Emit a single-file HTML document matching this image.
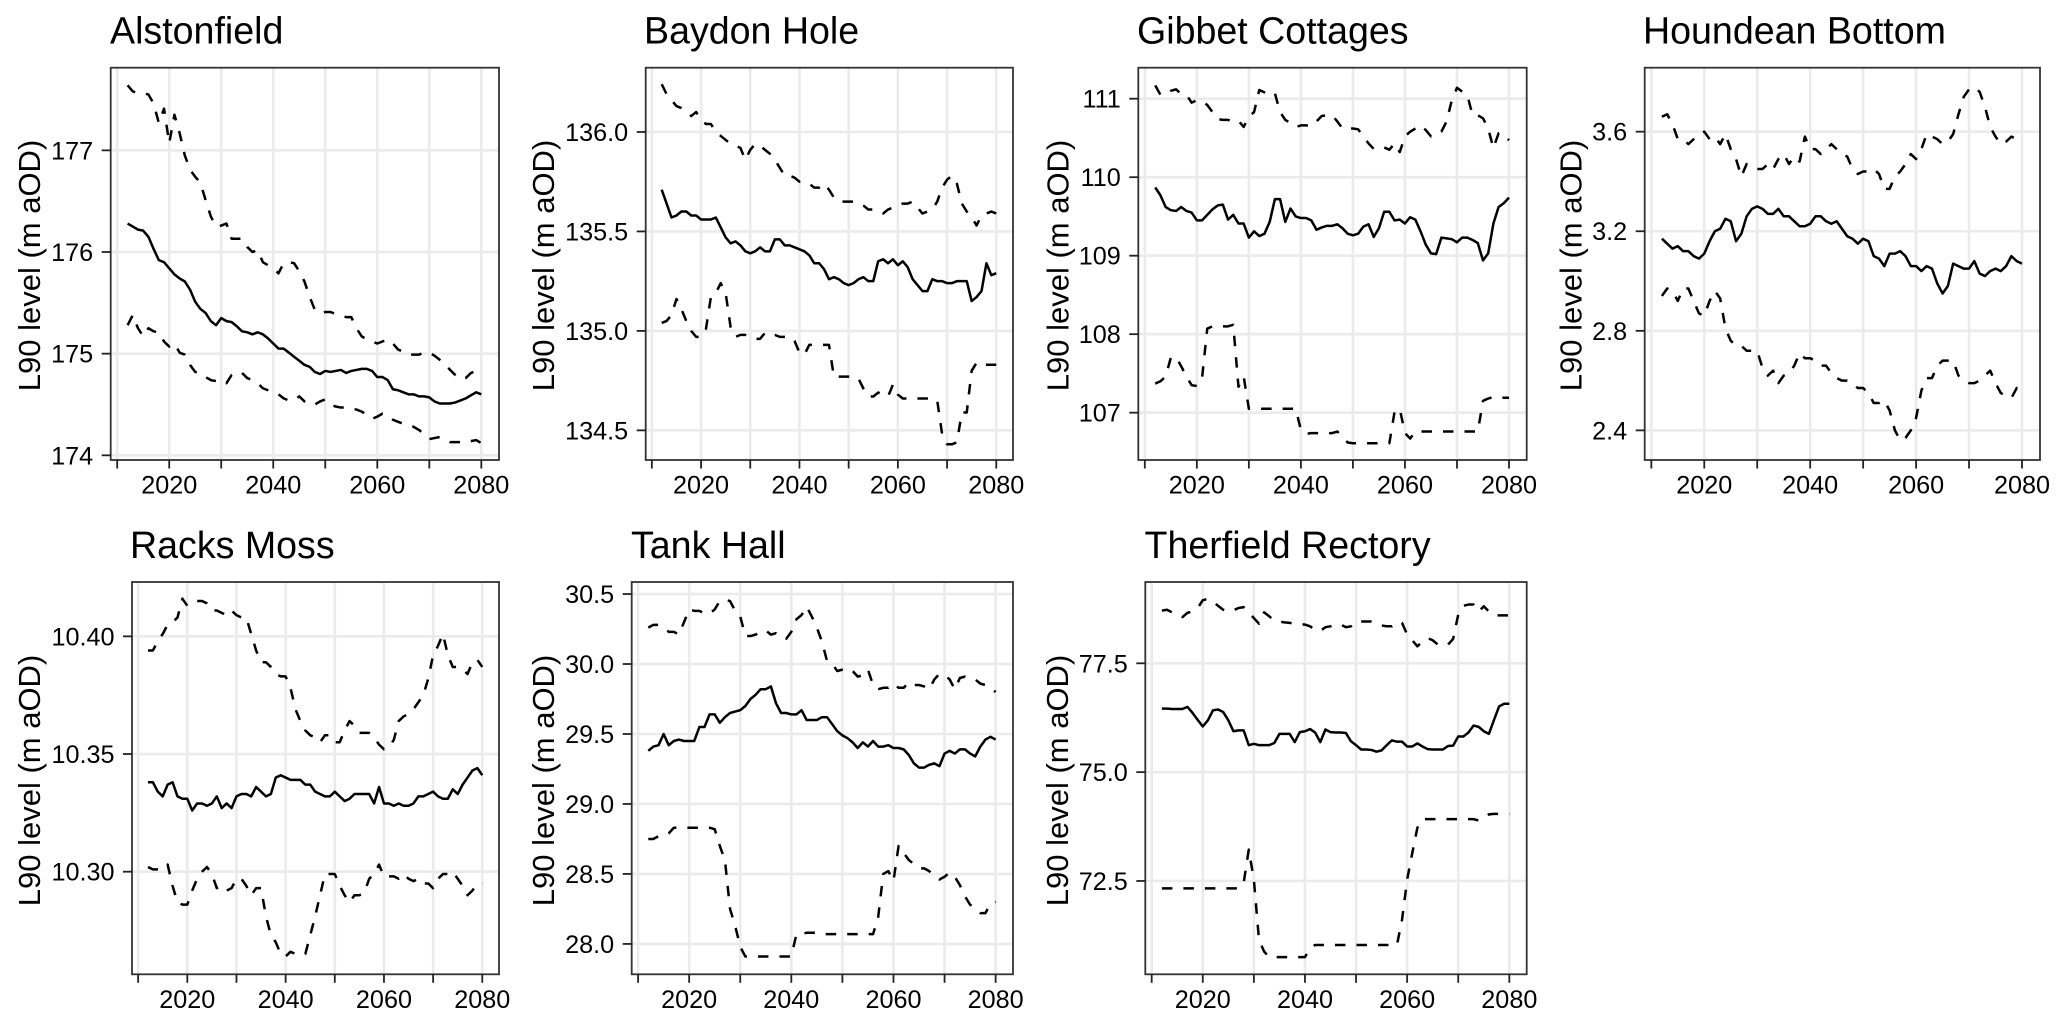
<!DOCTYPE html>
<html lang="en">
<head>
<meta charset="utf-8">
<title>L90 level projections</title>
<style>
html,body{margin:0;padding:0;background:#fff;}
svg{display:block;font-family:"Liberation Sans",Arial,sans-serif;}
</style>
</head>
<body>
<svg id="chart" xmlns="http://www.w3.org/2000/svg" width="2067" height="1026" viewBox="0 0 2067 1026"></svg>
<script>
const years=[2012,2013,2014,2015,2016,2017,2018,2019,
2020,2021,2022,2023,2024,2025,2026,2027,2028,2029,
2030,2031,2032,2033,2034,2035,2036,2037,2038,2039,
2040,2041,2042,2043,2044,2045,2046,2047,2048,2049,
2050,2051,2052,2053,2054,2055,2056,2057,2058,2059,
2060,2061,2062,2063,2064,2065,2066,2067,2068,2069,
2070,2071,2072,2073,2074,2075,2076,2077,2078,2079,
2080];
const xTickValues=[2010,2020,2030,2040,2050,2060,2070,2080];
const xTickLabels=["","2020","","2040","","2060","","2080"];
const yAxisTitle="L90 level (m aOD)";

const alstonfieldMid=[176.28,176.25,176.22,176.21,176.15,176.03,175.92,175.90,
175.84,175.78,175.74,175.71,175.63,175.51,175.44,175.40,175.32,175.28,
175.35,175.32,175.31,175.27,175.22,175.21,175.19,175.21,175.19,175.15,
175.10,175.05,175.05,175.01,174.97,174.93,174.89,174.87,174.82,174.80,
174.83,174.82,174.83,174.84,174.81,174.83,174.84,174.85,174.85,174.83,
174.77,174.77,174.74,174.65,174.64,174.62,174.60,174.60,174.58,174.58,
174.57,174.53,174.51,174.51,174.51,174.52,174.54,174.56,174.59,174.62,
174.60];
const alstonfieldUpper=[177.64,177.58,177.56,177.56,177.55,177.46,177.27,177.41,
177.07,177.35,177.17,176.95,176.81,176.74,176.68,176.51,176.35,176.25,
176.26,176.28,176.13,176.13,176.13,176.05,176.00,176.02,175.90,175.87,
175.84,175.79,175.89,175.90,175.89,175.81,175.71,175.56,175.43,175.40,
175.41,175.41,175.39,175.37,175.36,175.36,175.25,175.17,175.14,175.12,
175.10,175.12,175.14,175.10,175.04,175.02,174.99,174.99,174.99,175.01,
175.01,174.98,174.94,174.90,174.84,174.79,174.75,174.76,174.81,174.83,
174.81];
const alstonfieldLower=[175.28,175.38,175.25,175.17,175.25,175.22,175.21,175.12,
175.07,175.10,175.01,174.99,174.89,174.82,174.81,174.77,174.74,174.73,
174.74,174.71,174.79,174.82,174.81,174.76,174.74,174.71,174.66,174.64,
174.62,174.60,174.56,174.54,174.54,174.58,174.53,174.50,174.50,174.53,
174.55,174.50,174.48,174.47,174.47,174.46,174.45,174.43,174.40,174.36,
174.38,174.41,174.39,174.35,174.33,174.31,174.30,174.28,174.25,174.21,
174.16,174.17,174.18,174.16,174.13,174.13,174.13,174.14,174.14,174.15,
174.12];
const alstonfieldTicks=["174","175","176","177"];

const baydonMid=[135.71,135.64,135.57,135.58,135.60,135.60,135.58,135.58,
135.56,135.56,135.56,135.57,135.52,135.47,135.44,135.45,135.43,135.40,
135.39,135.40,135.42,135.40,135.40,135.46,135.46,135.43,135.43,135.42,
135.41,135.40,135.38,135.34,135.34,135.31,135.26,135.27,135.26,135.24,
135.23,135.24,135.26,135.27,135.25,135.25,135.35,135.36,135.34,135.36,
135.33,135.35,135.32,135.26,135.23,135.20,135.20,135.26,135.25,135.25,
135.24,135.24,135.25,135.25,135.25,135.15,135.17,135.20,135.34,135.28,
135.29];
const baydonUpper=[136.24,136.19,136.16,136.13,136.12,136.10,136.08,136.10,
136.06,136.04,136.04,136.00,135.98,135.96,135.94,135.93,135.92,135.86,
135.91,135.94,135.93,135.91,135.89,135.86,135.82,135.78,135.78,135.77,
135.75,135.75,135.74,135.72,135.72,135.74,135.71,135.67,135.65,135.65,
135.65,135.65,135.64,135.63,135.61,135.61,135.60,135.59,135.61,135.62,
135.63,135.64,135.64,135.65,135.62,135.59,135.60,135.61,135.65,135.72,
135.76,135.78,135.74,135.64,135.60,135.57,135.53,135.58,135.59,135.60,
135.59];
const baydonLower=[135.04,135.05,135.08,135.16,135.11,135.05,135.00,134.97,
134.97,135.01,135.17,135.19,135.24,135.19,135.02,134.97,134.98,134.98,
134.97,134.96,134.96,134.99,134.98,134.98,134.97,134.97,134.97,134.95,
134.89,134.88,134.93,134.93,134.93,134.93,134.93,134.77,134.77,134.77,
134.77,134.77,134.76,134.71,134.67,134.67,134.69,134.68,134.67,134.73,
134.68,134.66,134.66,134.66,134.66,134.66,134.66,134.66,134.65,134.48,
134.43,134.43,134.44,134.59,134.59,134.80,134.84,134.83,134.83,134.83,
134.83];
const baydonTicks=["134.5","135.0","135.5","136.0"];

const gibbetMid=[109.87,109.77,109.62,109.58,109.57,109.62,109.57,109.55,
109.45,109.45,109.52,109.59,109.64,109.65,109.46,109.52,109.41,109.41,
109.23,109.31,109.25,109.28,109.43,109.72,109.72,109.43,109.60,109.50,
109.48,109.48,109.45,109.33,109.36,109.38,109.38,109.40,109.35,109.28,
109.26,109.28,109.37,109.40,109.24,109.35,109.56,109.56,109.45,109.46,
109.41,109.49,109.46,109.31,109.14,109.03,109.02,109.23,109.22,109.21,
109.17,109.23,109.23,109.20,109.16,108.94,109.03,109.41,109.62,109.67,
109.74];
const gibbetUpper=[111.17,111.05,111.06,111.10,111.12,111.06,111.05,110.95,
110.98,110.97,110.92,110.83,110.74,110.73,110.73,110.71,110.72,110.64,
110.77,110.83,111.11,111.08,111.05,111.07,110.83,110.73,110.69,110.64,
110.66,110.66,110.65,110.71,110.78,110.79,110.79,110.71,110.62,110.62,
110.62,110.61,110.52,110.43,110.36,110.38,110.38,110.35,110.43,110.32,
110.52,110.58,110.62,110.66,110.60,110.52,110.56,110.58,110.71,110.98,
111.14,111.09,111.04,110.79,110.79,110.75,110.62,110.37,110.56,110.54,
110.47];
const gibbetLower=[107.37,107.40,107.46,107.70,107.71,107.59,107.46,107.35,
107.34,107.44,108.07,108.10,108.10,108.10,108.10,108.12,107.33,107.46,
107.05,107.05,107.05,107.05,107.05,107.05,107.05,107.05,107.05,107.05,
106.78,106.73,106.74,106.74,106.74,106.74,106.74,106.76,106.69,106.62,
106.61,106.61,106.61,106.61,106.61,106.61,106.61,106.61,107.01,107.05,
106.74,106.67,106.76,106.76,106.76,106.76,106.76,106.76,106.76,106.76,
106.76,106.76,106.76,106.76,106.76,107.15,107.18,107.20,107.20,107.19,
107.19];
const gibbetTicks=["107","108","109","110","111"];

const houndeanMid=[3.17,3.15,3.13,3.14,3.12,3.12,3.10,3.09,
3.11,3.16,3.20,3.21,3.25,3.24,3.16,3.19,3.26,3.29,
3.30,3.29,3.27,3.27,3.29,3.26,3.26,3.24,3.22,3.22,
3.23,3.26,3.26,3.24,3.23,3.24,3.21,3.18,3.17,3.15,
3.17,3.16,3.10,3.09,3.06,3.11,3.11,3.12,3.10,3.06,
3.06,3.04,3.06,3.05,2.99,2.95,2.98,3.07,3.06,3.05,
3.05,3.08,3.03,3.02,3.04,3.05,3.04,3.06,3.10,3.08,
3.07];
const houndeanUpper=[3.66,3.67,3.63,3.57,3.57,3.55,3.57,3.59,
3.60,3.57,3.58,3.55,3.59,3.53,3.49,3.42,3.47,3.46,
3.45,3.45,3.47,3.45,3.49,3.51,3.47,3.50,3.48,3.58,
3.53,3.53,3.51,3.53,3.55,3.53,3.51,3.50,3.45,3.43,
3.44,3.44,3.45,3.43,3.37,3.37,3.42,3.44,3.47,3.51,
3.49,3.53,3.59,3.58,3.57,3.55,3.56,3.59,3.67,3.74,
3.77,3.78,3.76,3.70,3.62,3.58,3.55,3.56,3.58,3.57,
3.55];
const houndeanLower=[2.94,2.97,2.96,2.92,2.97,2.97,2.92,2.87,
2.86,2.92,2.96,2.93,2.81,2.76,2.74,2.74,2.72,2.72,
2.72,2.65,2.62,2.64,2.59,2.62,2.63,2.66,2.71,2.69,
2.69,2.68,2.66,2.66,2.63,2.61,2.60,2.60,2.59,2.57,
2.57,2.55,2.51,2.51,2.52,2.48,2.40,2.36,2.37,2.40,
2.45,2.56,2.61,2.61,2.66,2.68,2.68,2.68,2.62,2.60,
2.59,2.59,2.60,2.62,2.64,2.59,2.55,2.54,2.53,2.57,
2.56];
const houndeanTicks=["2.4","2.8","3.2","3.6"];

const racksMid=[10.338,10.338,10.334,10.332,10.337,10.338,10.332,10.331,
10.331,10.326,10.329,10.329,10.328,10.329,10.332,10.327,10.329,10.327,
10.332,10.333,10.333,10.332,10.336,10.334,10.332,10.333,10.340,10.341,
10.340,10.339,10.339,10.339,10.337,10.337,10.334,10.333,10.332,10.332,
10.334,10.332,10.330,10.331,10.333,10.333,10.333,10.333,10.329,10.336,
10.329,10.329,10.328,10.329,10.328,10.328,10.329,10.332,10.332,10.333,
10.334,10.332,10.331,10.331,10.335,10.333,10.337,10.340,10.343,10.344,
10.341];
const racksUpper=[10.394,10.394,10.398,10.401,10.405,10.406,10.408,10.416,
10.413,10.414,10.415,10.415,10.414,10.411,10.411,10.410,10.409,10.411,
10.409,10.408,10.408,10.401,10.394,10.389,10.389,10.387,10.384,10.383,
10.383,10.378,10.369,10.364,10.360,10.358,10.357,10.355,10.358,10.358,
10.355,10.355,10.360,10.364,10.362,10.359,10.359,10.359,10.357,10.354,
10.352,10.353,10.356,10.364,10.366,10.367,10.369,10.372,10.375,10.382,
10.392,10.396,10.401,10.392,10.387,10.387,10.386,10.384,10.389,10.390,
10.387];
const racksLower=[10.302,10.301,10.301,10.301,10.303,10.294,10.287,10.286,
10.286,10.292,10.297,10.300,10.302,10.299,10.293,10.294,10.292,10.293,
10.297,10.297,10.294,10.290,10.293,10.293,10.281,10.273,10.270,10.265,
10.264,10.266,10.265,10.265,10.265,10.273,10.281,10.290,10.299,10.299,
10.299,10.294,10.290,10.287,10.290,10.290,10.291,10.297,10.299,10.303,
10.298,10.298,10.298,10.297,10.299,10.297,10.296,10.297,10.295,10.295,
10.293,10.297,10.299,10.299,10.300,10.297,10.294,10.290,10.292,10.295,
10.295];
const racksTicks=["10.30","10.35","10.40"];

const tankMid=[29.38,29.41,29.42,29.50,29.42,29.45,29.46,29.45,
29.45,29.45,29.55,29.55,29.64,29.64,29.58,29.62,29.65,29.66,
29.67,29.70,29.75,29.78,29.82,29.82,29.84,29.72,29.65,29.65,
29.64,29.64,29.67,29.60,29.60,29.60,29.62,29.62,29.57,29.52,
29.49,29.47,29.44,29.40,29.44,29.41,29.45,29.41,29.41,29.42,
29.40,29.40,29.39,29.35,29.29,29.26,29.26,29.28,29.29,29.27,
29.36,29.38,29.36,29.39,29.39,29.36,29.34,29.41,29.46,29.48,
29.46];
const tankUpper=[30.26,30.28,30.28,30.26,30.23,30.23,30.21,30.30,
30.39,30.38,30.38,30.36,30.36,30.39,30.45,30.46,30.45,30.38,
30.34,30.20,30.20,30.21,30.23,30.24,30.21,30.22,30.19,30.18,
30.23,30.32,30.35,30.41,30.34,30.26,30.16,30.02,30.00,29.95,
29.96,29.97,29.95,29.91,29.92,29.96,29.85,29.82,29.83,29.83,
29.86,29.83,29.83,29.87,29.85,29.85,29.84,29.82,29.89,29.93,
29.92,29.89,29.82,29.90,29.91,29.90,29.89,29.86,29.85,29.83,
29.80];
const tankLower=[28.75,28.75,28.77,28.77,28.79,28.83,28.83,28.83,
28.83,28.83,28.83,28.83,28.83,28.82,28.70,28.60,28.25,28.13,
27.98,27.91,27.91,27.91,27.91,27.91,27.91,27.91,27.91,27.91,
27.91,28.07,28.07,28.08,28.08,28.08,28.07,28.07,28.07,28.07,
28.07,28.07,28.07,28.07,28.07,28.07,28.07,28.19,28.50,28.52,
28.45,28.70,28.65,28.60,28.57,28.54,28.54,28.52,28.48,28.46,
28.48,28.51,28.48,28.42,28.34,28.28,28.26,28.22,28.22,28.29,
28.30];
const tankTicks=["28.0","28.5","29.0","29.5","30.0","30.5"];

const therfieldMid=[76.46,76.46,76.45,76.45,76.45,76.50,76.36,76.20,
76.05,76.19,76.42,76.44,76.38,76.19,75.94,75.96,75.96,75.62,
75.65,75.62,75.62,75.62,75.67,75.88,75.88,75.88,75.69,75.92,
75.94,75.99,75.91,75.69,75.98,75.92,75.91,75.91,75.90,75.71,
75.62,75.52,75.52,75.51,75.47,75.50,75.62,75.73,75.70,75.70,
75.59,75.59,75.66,75.59,75.53,75.52,75.52,75.52,75.60,75.61,
75.82,75.82,75.91,76.07,76.04,75.94,75.88,76.20,76.51,76.57,
76.57];
const therfieldUpper=[78.71,78.73,78.67,78.60,78.56,78.66,78.69,78.77,
78.95,78.98,78.92,78.82,78.73,78.69,78.72,78.77,78.79,78.66,
78.54,78.41,78.67,78.58,78.48,78.46,78.44,78.43,78.40,78.40,
78.39,78.35,78.27,78.24,78.33,78.35,78.39,78.39,78.33,78.35,
78.46,78.46,78.46,78.46,78.43,78.37,78.35,78.35,78.44,78.43,
78.16,78.03,77.89,78.00,78.08,78.03,77.93,77.91,77.93,78.06,
78.62,78.82,78.85,78.85,78.69,78.81,78.69,78.60,78.60,78.60,
78.60];
const therfieldLower=[72.33,72.33,72.33,72.33,72.33,72.33,72.33,72.33,
72.33,72.33,72.33,72.33,72.33,72.33,72.33,72.33,72.45,73.22,
72.53,71.15,70.88,70.75,70.75,70.75,70.75,70.75,70.75,70.75,
70.75,70.96,71.03,71.03,71.03,71.03,71.03,71.03,71.03,71.03,
71.03,71.03,71.03,71.03,71.03,71.03,71.03,71.03,71.03,71.61,
72.53,73.14,73.72,73.92,73.92,73.92,73.92,73.92,73.92,73.92,
73.92,73.92,73.92,73.92,73.89,73.97,74.03,74.04,74.04,74.04,
74.04];
const therfieldTicks=["72.5","75.0","77.5"];

const xDomainMin=2008.75, xDomainMax=2083.4;

const panels=[
 {key:"alstonfield",title:"Alstonfield",mid:alstonfieldMid,upper:alstonfieldUpper,lower:alstonfieldLower,ticks:alstonfieldTicks,
  left:110.7,right:499,top:67.7,bottom:460,yMax:177.813,yMin:173.954,labelX:40,labelY:265.5,titleX:110,titleY:43.5},
 {key:"baydon-hole",title:"Baydon Hole",mid:baydonMid,upper:baydonUpper,lower:baydonLower,ticks:baydonTicks,
  left:645.7,right:1013,top:67.7,bottom:460,yMax:136.323,yMin:134.351,labelX:554,labelY:265.5,titleX:644,titleY:43.5},
 {key:"gibbet-cottages",title:"Gibbet Cottages",mid:gibbetMid,upper:gibbetUpper,lower:gibbetLower,ticks:gibbetTicks,
  left:1138.3,right:1526.7,top:67.7,bottom:460,yMax:111.395,yMin:106.397,labelX:1068.3,labelY:265.5,titleX:1137,titleY:43.5},
 {key:"houndean-bottom",title:"Houndean Bottom",mid:houndeanMid,upper:houndeanUpper,lower:houndeanLower,ticks:houndeanTicks,
  left:1644.7,right:2040,top:67.7,bottom:460,yMax:3.857,yMin:2.281,labelX:1581.7,labelY:265.5,titleX:1643,titleY:43.5},
 {key:"racks-moss",title:"Racks Moss",mid:racksMid,upper:racksUpper,lower:racksLower,ticks:racksTicks,
  left:132,right:499,top:582,bottom:974.3,yMax:10.4231,yMin:10.2564,labelX:40,labelY:780.5,titleX:130,titleY:558},
 {key:"tank-hall",title:"Tank Hall",mid:tankMid,upper:tankUpper,lower:tankLower,ticks:tankTicks,
  left:631.7,right:1013,top:582,bottom:974.3,yMax:30.586,yMin:27.783,labelX:554,labelY:780.5,titleX:631,titleY:558},
 {key:"therfield-rectory",title:"Therfield Rectory",mid:therfieldMid,upper:therfieldUpper,lower:therfieldLower,ticks:therfieldTicks,
  left:1145.3,right:1526.7,top:582,bottom:974.3,yMax:79.368,yMin:70.356,labelX:1068,labelY:780.5,titleX:1144.5,titleY:558}
];

const NS="http://www.w3.org/2000/svg";
const root=document.getElementById("chart");
function make(parent,tag,attrs){
  const el=document.createElementNS(NS,tag);
  for(const k in attrs){el.setAttribute(k,attrs[k]);}
  parent.appendChild(el);
  return el;
}
function drawSeries(group,p,values,xScale,yScale,dashed,name){
  const pts=years.map(function(yr,i){return xScale(yr).toFixed(2)+","+yScale(values[i]).toFixed(2);}).join(" ");
  const line=make(group,"polyline",{points:pts,fill:"none",stroke:"#000","stroke-width":2.5,"stroke-linejoin":"round"});
  if(dashed){line.setAttribute("stroke-dasharray","10.5 11");}
  
  
}
panels.forEach(function(p){
  const xScale=function(v){return p.left+(v-xDomainMin)/(xDomainMax-xDomainMin)*(p.right-p.left);};
  const yScale=function(v){return p.bottom-(v-p.yMin)/(p.yMax-p.yMin)*(p.bottom-p.top);};
  const g=make(root,"g",{});
  
  

  const title=make(g,"text",{x:p.titleX,y:p.titleY,"font-size":37.6,fill:"#000"});
  title.textContent=p.title;
  
  

  const ylab=make(g,"text",{x:0,y:0,"font-size":31,fill:"#000","text-anchor":"middle",transform:"translate("+p.labelX+","+p.labelY+") rotate(-90)"});
  ylab.textContent=yAxisTitle;
  
  

  xTickValues.forEach(function(v){
    const grid=make(g,"line",{x1:xScale(v),x2:xScale(v),y1:p.top,y2:p.bottom,stroke:"#ebebeb","stroke-width":2.6});
    
    
  });
  p.ticks.forEach(function(t){
    const v=Number(t);
    const grid=make(g,"line",{x1:p.left,x2:p.right,y1:yScale(v),y2:yScale(v),stroke:"#ebebeb","stroke-width":2.6});
    
    
  });

  drawSeries(g,p,p.upper,xScale,yScale,true,'upper-bound-line');
  drawSeries(g,p,p.mid,xScale,yScale,false,'central-line');
  drawSeries(g,p,p.lower,xScale,yScale,true,'lower-bound-line');

  const border=make(g,"rect",{x:p.left,y:p.top,width:p.right-p.left,height:p.bottom-p.top,fill:"none",stroke:"#333","stroke-width":1.8});
  
  

  xTickValues.forEach(function(v,i){
    const tick=make(g,"line",{x1:xScale(v),x2:xScale(v),y1:p.bottom,y2:p.bottom+8.5,stroke:"#222","stroke-width":1.8});
    
    
    if(xTickLabels[i]){
      const lab=make(g,"text",{x:xScale(v),y:p.bottom+33.5,"font-size":25.2,fill:"#000","text-anchor":"middle"});
      lab.textContent=xTickLabels[i];
      
      
    }
  });
  p.ticks.forEach(function(t){
    const v=Number(t);
    const tick=make(g,"line",{x1:p.left-9,x2:p.left,y1:yScale(v),y2:yScale(v),stroke:"#222","stroke-width":1.8});
    
    
    const lab=make(g,"text",{x:p.left-17.5,y:yScale(v)+9,"font-size":25.2,fill:"#000","text-anchor":"end"});
    lab.textContent=t;
    
    
  });
});
</script>
</body>
</html>
